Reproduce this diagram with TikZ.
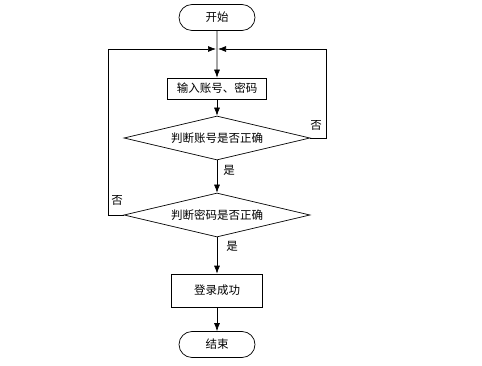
\documentclass[tikz,border=0pt]{standalone}
\usepackage{fontspec}
\setmainfont{Noto Sans CJK SC}
\usetikzlibrary{shapes.geometric,shapes.misc,arrows.meta}
\begin{document}
\begin{tikzpicture}[x=1pt,y=-1pt,
  txt/.style={font=\fontsize{11.5}{13}\selectfont},
  term/.style={draw,rounded rectangle,minimum width=76pt,minimum height=26pt,inner sep=0pt,txt},
  proc/.style={draw,rectangle,inner sep=0pt,txt},
  dec/.style={draw,diamond,aspect=4.2,inner sep=0pt,minimum width=186pt,minimum height=44pt,txt},
  lbl/.style={txt,inner sep=0pt},
  arr/.style={-{Latex[length=8pt,width=6pt]}},
  line width=0.7pt]
\useasboundingbox (0,0) rectangle (482,366);
\node[term] (start) at (217,17.5) {开始};
\coordinate (j) at (217,49);
\node[proc,minimum width=99pt,minimum height=21pt] (input) at (217,88.5) {输入账号、密码};
\node[dec] (d1) at (217,138) {判断账号是否正确};
\node[dec] (d2) at (217,215) {判断密码是否正确};
\node[proc,minimum width=91pt,minimum height=33pt] (ok) at (217,290.5) {登录成功};
\node[term] (end) at (217,344.5) {结束};
\draw[arr] (start) -- (input);
\draw[arr] (input) -- (d1);
\draw[arr] (d1) -- node[lbl,right=6pt,pos=0.3] (y1) {是} (d2);
\draw[arr] (d2) -- node[lbl,right=9pt,pos=0.25] (y2) {是} (ok);
\draw[arr] (ok) -- (end);
\coordinate (rc) at (326,138);
\coordinate (lc) at (108,215);
\draw[arr] (d1.east) -- (rc) |- ([xshift=1pt]j);
\draw[arr] (d2.west) -- (lc) |- ([xshift=-1pt]j);
\node[lbl] (n1) at (316,125) {否};
\node[lbl] (n2) at (117,200) {否};
\end{tikzpicture}
\end{document}
